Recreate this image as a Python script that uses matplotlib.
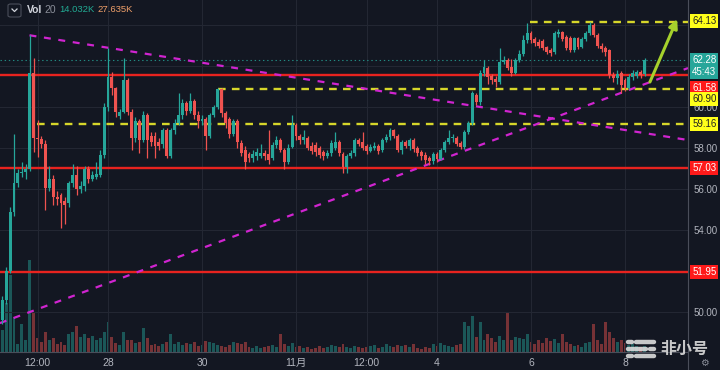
import matplotlib
matplotlib.use('Agg')
import matplotlib.pyplot as plt
from matplotlib.lines import Line2D
from matplotlib.patches import FancyBboxPatch
import numpy as np

plt.rcParams['font.family'] = ['Liberation Sans', 'Noto Sans CJK SC', 'DejaVu Sans']
plt.rcParams['lines.scale_dashes'] = False

# ---------------- data (2h candles) ----------------
start_day = -0.25          # first candle, in days from Oct 26 00:00
period_day = 1 / 12        # 2 hours

opens = [49.6, 50.6, 52.0, 54.9, 56.3, 56.8, 56.85, 57.0, 61.65, 58.5,
         58.45, 58.2, 56.05, 56.5, 55.6, 55.7, 55.4, 55.3, 56.3, 56.7,
         56.0, 56.15, 57.0, 56.5, 56.6, 56.7, 57.65, 60.0, 61.46, 60.93,
         59.55, 59.76, 61.3, 59.76, 58.5, 59.3, 58.4, 59.6, 58.6, 58.6,
         58.3, 58.2, 58.9, 57.6, 58.9, 59.2, 59.6, 60.2, 59.8, 60.3,
         59.6, 59.3, 59.4, 58.6, 59.6, 60.0, 60.9, 59.7, 59.4, 58.7,
         59.3, 58.25, 57.9, 57.7, 57.5, 57.6, 57.6, 57.75, 57.7, 57.5,
         58.15, 58.4, 57.9, 57.3, 58.05, 59.1, 58.6, 58.4, 58.5, 58.1,
         58.15, 58.0, 57.8, 57.6, 57.75, 58.0, 58.3, 57.7, 57.07, 57.6,
         57.75, 58.4, 58.3, 58.1, 57.85, 58.0, 58.1, 57.9, 58.4, 58.55,
         58.9, 58.6, 57.9, 58.3, 58.1, 58.4, 58.0, 57.8, 57.65, 57.5,
         57.35, 57.7, 57.45, 57.9, 58.3, 58.5, 58.5, 58.25, 58.05, 58.8,
         59.2, 60.6, 60.25, 61.65, 61.9, 61.5, 61.35, 61.2, 62.2, 62.3,
         61.95, 61.65, 62.3, 62.6, 63.25, 63.6, 63.3, 63.15, 63.2, 62.93,
         62.8, 62.7, 63.55, 63.65, 63.4, 63.37, 62.78, 63.35, 62.95, 63.3,
         63.6, 64.0, 63.5, 63.0, 62.9, 62.78, 61.56, 61.4, 61.65, 61.3,
         60.95, 61.45, 61.5, 61.7, 61.6]
highs = [50.8, 52.2, 55.1, 58.7, 57.0, 57.3, 57.2, 63.5, 62.4, 59.35,
         58.6, 58.4, 57.1, 56.7, 55.9, 55.8, 55.6, 56.4, 57.2, 57.1,
         56.4, 57.1, 57.1, 56.9, 57.3, 57.9, 60.2, 62.9, 61.7, 61.0,
         59.9, 62.4, 61.4, 59.9, 59.5, 59.4, 59.8, 59.7, 58.8, 58.8,
         58.5, 59.0, 59.0, 59.0, 59.4, 60.7, 60.4, 60.3, 60.7, 60.4,
         59.8, 59.6, 59.5, 59.7, 60.1, 60.95, 60.95, 59.8, 59.5, 59.4,
         59.4, 58.4, 58.1, 57.8, 57.9, 58.0, 58.2, 57.9, 58.9, 58.3,
         58.6, 58.5, 58.0, 58.2, 59.6, 59.2, 58.7, 58.9, 58.6, 58.3,
         58.3, 58.1, 57.9, 57.9, 58.4, 58.8, 58.4, 57.8, 57.7, 57.9,
         58.5, 58.5, 58.8, 58.2, 58.2, 58.3, 58.2, 58.5, 58.7, 59.0,
         58.95, 58.7, 58.4, 58.4, 58.5, 58.5, 58.1, 57.9, 57.8, 57.6,
         57.8, 57.8, 58.0, 58.4, 58.9, 58.7, 58.6, 58.35, 58.9, 59.3,
         60.8, 60.7, 61.8, 62.3, 62.0, 61.6, 61.5, 62.9, 62.5, 62.4,
         62.35, 62.4, 62.8, 63.5, 64.1, 63.7, 63.4, 63.3, 63.3, 63.0,
         62.9, 63.7, 63.8, 63.7, 63.5, 63.45, 63.4, 63.4, 63.4, 63.7,
         64.15, 64.1, 63.6, 63.1, 63.0, 62.85, 61.7, 61.8, 61.75, 61.4,
         61.6, 61.8, 61.8, 61.8, 62.4]
lows = [49.4, 50.4, 51.9, 54.7, 56.1, 56.6, 56.5, 56.9, 57.8, 57.55,
        58.0, 55.0, 55.9, 55.2, 55.2, 54.1, 54.3, 55.1, 56.1, 55.7,
        55.8, 55.9, 56.3, 56.4, 56.5, 56.6, 57.5, 59.8, 60.6, 59.5,
        59.4, 59.7, 59.6, 57.9, 58.3, 57.75, 58.3, 57.5, 58.1, 57.5,
        57.9, 58.0, 57.5, 57.5, 58.7, 59.1, 59.4, 59.6, 59.7, 59.4,
        59.0, 59.1, 57.9, 58.5, 59.5, 59.9, 59.5, 59.0, 58.5, 58.6,
        58.0, 57.6, 57.0, 57.3, 57.3, 57.4, 57.5, 57.4, 57.2, 57.4,
        58.0, 57.8, 57.0, 57.2, 58.0, 58.4, 58.2, 58.2, 57.9, 57.7,
        57.6, 57.5, 57.4, 57.5, 57.6, 57.9, 57.6, 56.8, 56.8, 57.5,
        57.6, 58.1, 57.9, 57.7, 57.8, 57.9, 57.7, 57.8, 58.3, 58.4,
        58.5, 57.8, 57.7, 58.0, 57.9, 57.8, 57.6, 57.4, 57.2, 57.15,
        57.2, 57.3, 57.4, 57.8, 58.2, 58.3, 58.1, 57.95, 57.95, 58.7,
        59.1, 60.1, 60.1, 61.5, 61.1, 61.1, 61.0, 61.1, 62.1, 61.8,
        61.5, 61.6, 62.2, 62.5, 63.1, 63.1, 63.0, 62.9, 62.8, 62.6,
        62.5, 62.6, 63.4, 63.2, 62.8, 62.7, 62.7, 62.85, 62.9, 63.2,
        63.5, 63.4, 62.9, 62.7, 62.5, 61.4, 61.2, 61.1, 60.68, 60.8,
        60.9, 61.3, 61.4, 61.4, 61.5]
closes = [50.6, 52.0, 54.9, 56.3, 56.8, 56.85, 57.0, 61.65, 58.5, 58.45,
          58.2, 56.05, 56.5, 55.6, 55.5, 55.3, 55.2, 56.3, 56.7, 56.0,
          56.15, 57.0, 56.5, 56.7, 56.75, 57.65, 60.0, 61.46, 60.93, 59.76,
          59.76, 61.3, 59.76, 58.5, 59.3, 58.4, 59.6, 58.4, 58.3, 58.1,
          58.1, 58.9, 57.6, 58.9, 59.2, 59.6, 60.2, 59.8, 60.3, 59.6,
          59.3, 59.4, 58.6, 59.6, 60.0, 60.9, 59.7, 59.2, 58.7, 59.3,
          58.3, 57.75, 57.3, 57.5, 57.7, 57.8, 57.75, 57.6, 57.4, 58.15,
          58.4, 57.9, 57.3, 58.0, 59.1, 58.6, 58.4, 58.55, 58.0, 57.85,
          57.8, 57.65, 57.6, 57.75, 58.25, 58.3, 57.75, 57.07, 57.6, 57.75,
          58.4, 58.2, 58.0, 57.85, 58.05, 58.1, 57.85, 58.4, 58.55, 58.9,
          58.6, 57.9, 58.3, 58.1, 58.4, 57.95, 57.75, 57.6, 57.4, 57.35,
          57.7, 57.45, 57.9, 58.3, 58.5, 58.55, 58.2, 58.05, 58.8, 59.2,
          60.7, 60.25, 61.65, 61.95, 61.46, 61.3, 61.2, 62.2, 62.3, 61.9,
          61.65, 62.3, 62.6, 63.25, 63.6, 63.25, 63.1, 63.0, 62.9, 62.7,
          62.65, 63.6, 63.65, 63.3, 62.9, 62.78, 63.35, 62.95, 63.3, 63.6,
          64.0, 63.5, 63.0, 62.85, 62.7, 61.56, 61.4, 61.6, 61.07, 60.95,
          61.45, 61.65, 61.7, 61.55, 62.28]
volumes_k = [50, 113, 177, 80, 18, 64, 28, 212, 92, 32,
             23, 46, 28, 32, 18, 23, 16, 41, 46, 60,
             35, 41, 32, 37, 28, 32, 46, 69, 35, 21,
             16, 46, 28, 28, 21, 23, 55, 32, 16, 18,
             14, 18, 23, 41, 18, 23, 16, 21, 18, 23,
             14, 16, 25, 23, 21, 16, 14, 12, 16, 23,
             21, 18, 23, 12, 9, 14, 9, 12, 14, 16,
             12, 41, 18, 14, 21, 12, 14, 9, 12, 7,
             9, 14, 9, 12, 16, 14, 12, 18, 12, 9,
             14, 12, 9, 12, 14, 16, 9, 12, 18, 14,
             12, 16, 14, 16, 12, 18, 9, 7, 12, 9,
             18, 14, 21, 16, 14, 12, 16, 18, 69, 60,
             83, 35, 69, 28, 41, 32, 23, 37, 28, 92,
             28, 35, 32, 30, 41, 23, 18, 28, 21, 32,
             25, 30, 21, 41, 23, 18, 14, 16, 12, 21,
             23, 64, 28, 18, 69, 46, 32, 23, 28, 21,
             16, 18, 14, 12, 14]

# key levels
red_levels = [61.58, 57.03, 51.95]
yellow_levels = [64.13, 60.90, 59.16]
yellow_start_days = [10.98, 4.34, 0.49]
last_price = 62.28
countdown = '45:43'
vol_last = '14.032K'
vol_ma = '27.635K'

# trend lines (day, price)
down_trend = ([0.33, 14.34], [63.5, 58.39])
up_trend = ([-0.30, 14.34], [49.46, 61.90])
arrow_tail = (13.53, 61.22)
arrow_head = (14.11, 64.29)

tick_days = [0.5, 2, 4, 6, 7.5, 9, 11, 13]
tick_labels = ['12:00', '28', '30', '11月', '12:00', '4', '6', '8']
price_ticks = [50, 52, 54, 56, 58, 60, 62, 64]
price_tick_labels = ['50.00', '', '54.00', '56.00', '58.00', '60.00', '', '']

# ---------------- style ----------------
BG = '#131722'
GRID = '#232733'
UP = '#26a69a'
DN = '#ef5350'
TXT = '#b2b5be'
RED = '#e8231f'
YEL = '#d6d62a'
MAG = '#d024d0'

n = len(closes)
days = start_day + np.arange(n) * period_day
o = np.array(opens); c = np.array(closes)
h = np.array(highs); l = np.array(lows)
up = c >= o
cols = np.where(up, UP, DN)

fig = plt.figure(figsize=(7.2, 3.7), dpi=100, facecolor=BG)
pos = [0, 18 / 370, 688 / 720, 352 / 370]
axv = fig.add_axes(pos, facecolor=BG)
ax = fig.add_axes(pos, sharex=axv)
ax.patch.set_visible(False)

xmin, xmax = -0.298, 14.34
ax.set_xlim(xmin, xmax)
ax.set_ylim(48.05, 65.22)

# volume
axv.bar(days, volumes_k, width=0.062, color=cols, alpha=0.45, linewidth=0)
axv.set_ylim(0, 810)
axv.set_yticks([])
axv.tick_params(bottom=False, labelbottom=False)
for s in axv.spines.values():
    s.set_visible(False)

# grid / ticks
ax.set_yticks(price_ticks)
ax.set_yticklabels(price_tick_labels)
ax.set_xticks(tick_days)
ax.set_xticklabels(tick_labels)
ax.grid(True, color=GRID, lw=0.8, zorder=0)
ax.set_axisbelow(True)
ax.yaxis.tick_right()
ax.tick_params(axis='y', length=0, pad=4, labelcolor=TXT, labelsize=7)
ax.tick_params(axis='x', length=0, pad=4, labelcolor=TXT, labelsize=7.5)
for s in ax.spines.values():
    s.set_visible(False)

# levels
for lv in red_levels:
    ax.axhline(lv, color=RED, lw=1.7, zorder=3)
for lv, sd in zip(yellow_levels, yellow_start_days):
    ax.hlines(lv, sd, xmax, colors=YEL, lw=1.7, linestyles=(0, (5.5, 4.5)), zorder=3)
ax.plot(*down_trend, color=MAG, lw=1.6, dashes=(5, 5.5), zorder=3)
ax.plot(*up_trend, color=MAG, lw=1.6, dashes=(5, 5.5), zorder=3)
ax.axhline(last_price, color=UP, lw=0.8, ls=(0, (1, 2)), alpha=0.8, zorder=2)

# candles
ax.vlines(days, l, h, colors=cols, lw=0.9, zorder=5)
ax.bar(days, np.maximum(np.abs(c - o), 0.04), bottom=np.minimum(o, c),
       width=0.062, color=cols, linewidth=0, zorder=6)

# arrow
ax.annotate('', xy=arrow_head, xytext=arrow_tail,
            arrowprops=dict(arrowstyle='-|>', color='#a6d12c', lw=2.2,
                            mutation_scale=13, shrinkA=0, shrinkB=0), zorder=7)

# right axis labels
def price_label(price, text, fc, tc, dy_px=0.0):
    ax.annotate(text, xy=(1, price), xycoords=('axes fraction', 'data'),
                xytext=(3.0, -dy_px * 0.72), textcoords='offset points',
                ha='left', va='center', fontsize=7, color=tc,
                annotation_clip=False, zorder=10,
                bbox=dict(boxstyle='square,pad=0.2', fc=fc, ec='none'))

price_label(yellow_levels[0], f'{yellow_levels[0]:.2f}', '#ffff1a', '#222222', -1)
price_label(last_price, f'{last_price:.2f}', UP, 'white', 0)
price_label(last_price, countdown, UP, 'white', 12)
price_label(red_levels[0], f'{red_levels[0]:.2f}', '#ff1a1a', 'white', 13)
price_label(yellow_levels[1], f'{yellow_levels[1]:.2f}', '#ffff1a', '#222222', 10.5)
price_label(yellow_levels[2], f'{yellow_levels[2]:.2f}', '#ffff1a', '#222222', 0)
price_label(red_levels[1], f'{red_levels[1]:.2f}', '#ff1a1a', 'white', 0)
price_label(red_levels[2], f'{red_levels[2]:.2f}', '#ff1a1a', 'white', 0)

# frame lines
fig.add_artist(Line2D([688 / 720, 688 / 720], [0, 1], color='#4a4e5a', lw=0.8))
fig.add_artist(Line2D([0, 688 / 720], [18 / 370, 18 / 370], color='#4a4e5a', lw=0.8))

# top-left legend
def fx(px): return px / 720
def fy(py): return 1 - py / 370
fig.add_artist(FancyBboxPatch((fx(8), fy(17)), 13 / 720, 13 / 370,
                              boxstyle='round,pad=0,rounding_size=0.004',
                              fc=BG, ec='#4a4e5a', lw=0.8, transform=fig.transFigure))
fig.add_artist(Line2D([fx(12), fx(14.5), fx(17)], [fy(9), fy(11.5), fy(9)],
                      color='#d1d4dc', lw=0.9))
fig.text(fx(27), fy(10), 'Vol', fontsize=7.5, color='#d1d4dc', va='center', weight='bold')
fig.text(fx(44), fy(10), '20', fontsize=7.5, color='#8a8e99', va='center')
fig.text(fx(59), fy(10), vol_last, fontsize=6.8, color='#22ab94', va='center')
fig.text(fx(97), fy(10), vol_ma, fontsize=6.8, color='#f0a06a', va='center')

# watermark
wm = '#dcdcdc'
for (x0, x1, yy) in [(628, 632, 342), (636, 654, 342), (628, 646, 349), (650, 654, 349),
                     (628, 632, 356), (636, 654, 356)]:
    fig.add_artist(Line2D([fx(x0), fx(x1)], [fy(yy), fy(yy)], color=wm, lw=3.2,
                          solid_capstyle='round', alpha=0.9))
fig.text(fx(660), fy(349), '非小号', fontsize=11.5, color=wm, va='center', ha='left',
         family=['Noto Sans CJK SC', 'DejaVu Sans'], weight='bold', alpha=0.9)
fig.text(fx(704), fy(363), '⚙', fontsize=7, color='#8a8e99', va='center', ha='center',
         family=['DejaVu Sans'])

fig.savefig('out.png', dpi=100, facecolor=BG)
